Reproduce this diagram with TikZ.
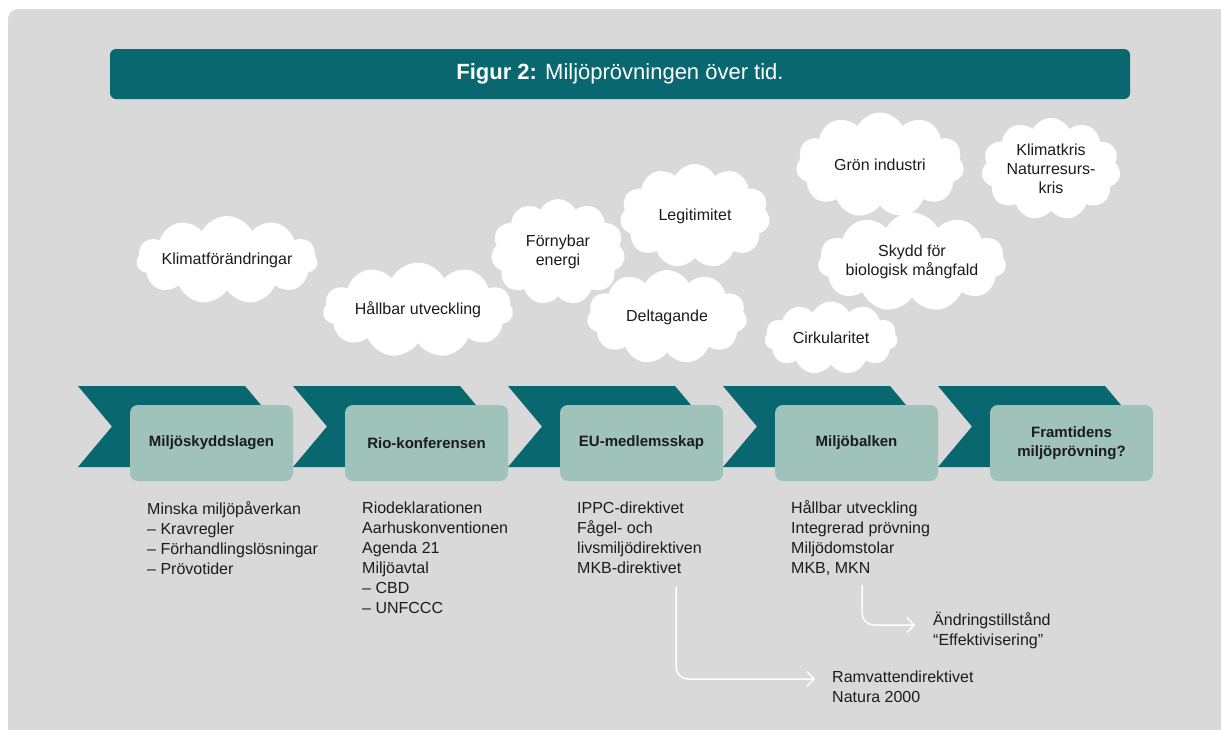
\documentclass[tikz,border=0pt]{standalone}
\usepackage{fontspec}
\setmainfont{Liberation Sans}
\usetikzlibrary{shapes.symbols,arrows.meta}
\definecolor{bggrey}{HTML}{D9D9D9}
\definecolor{tealdark}{HTML}{08676F}
\definecolor{boxgreen}{HTML}{9FC2BA}
\definecolor{ink}{HTML}{1C1C1C}
\begin{document}
\begin{tikzpicture}[x=1pt,y=-1pt,
 chev/.style={fill=tealdark},
 stagebox/.style={fill=boxgreen, rounded corners=8pt, minimum width=163pt, minimum height=76pt, inner sep=0pt, font=\fontsize{15}{19}\selectfont\bfseries, text=ink, align=center},
 puff/.style={cloud, cloud puffs=11, cloud puff arc=125, fill=white, inner sep=0pt, cloud ignores aspect, font=\fontsize{16}{19}\selectfont, text=ink, align=center},
 note/.style={anchor=west, inner sep=0pt, align=left, font=\fontsize{16}{20}\selectfont, text=ink},
 arr/.style={draw=white, line width=1.5pt, rounded corners=12pt, -{Straight Barb[length=7pt,width=15pt]}}]
\useasboundingbox (0,0) rectangle (1221,729);
\fill[bggrey, rounded corners=10pt] (8,9) rectangle (1250,760);

\node[fill=tealdark, rounded corners=6pt, minimum width=1020pt, minimum height=50pt, inner sep=0pt, text=white, font=\fontsize{22}{26}\selectfont] (title) at (620,74) {\textbf{Figur 2:} Miljöprövningen över tid.};

\foreach \i in {0,...,4} {
  \fill[chev] ({78+215*\i},386) -- ({245+215*\i},386) -- ({279+215*\i},426.5) -- ({245+215*\i},467) -- ({78+215*\i},467) -- ({112+215*\i},426.5) -- cycle;
}

\node[stagebox] (s1) at (211.5,443) {Miljöskyddslagen};
\node[stagebox] (s2) at (426.5,443) {Rio-konferensen};
\node[stagebox] (s3) at (641.5,443) {EU-medlemsskap};
\node[stagebox] (s4) at (856.5,443) {Miljöbalken};
\node[stagebox] (s5) at (1071.5,443) {Framtidens\\miljöprövning?};

\node[note] (c1) at (147,538) {Minska miljöpåverkan\\– Kravregler\\– Förhandlingslösningar\\– Prövotider};
\node[note] (c2) at (362,558) {Riodeklarationen\\Aarhuskonventionen\\Agenda 21\\Miljöavtal\\– CBD\\– UNFCCC};
\node[note] (c3) at (577,538) {IPPC-direktivet\\Fågel- och\\livsmiljödirektiven\\MKB-direktivet};
\node[note] (c4) at (791,538) {Hållbar utveckling\\Integrerad prövning\\Miljödomstolar\\MKB, MKN};
\node[note] (r1) at (832,687) {Ramvattendirektivet\\Natura 2000};
\node[note] (r2) at (933,630) {Ändringstillstånd\\“Effektivisering”};

\coordinate (a1s) at (676,587);
\coordinate (a2s) at (862,585);
\draw[arr] (a1s) |- ([xshift=-17pt,yshift=8pt]r1.west);
\draw[arr] (a2s) |- ([xshift=-18pt,yshift=5pt]r2.west);

\node[puff, minimum width=173pt, minimum height=88pt] (k1) at (227,260) {Klimatförändringar};
\node[puff, minimum width=190pt, minimum height=95pt] (k2) at (418,310) {Hållbar utveckling};
\node[puff, minimum width=134pt, minimum height=106pt] (k3) at (558,252) {Förnybar\\energi};
\node[puff, minimum width=150pt, minimum height=104pt] (k4) at (695,216) {Legitimitet};
\node[puff, minimum width=160pt, minimum height=94pt] (k5) at (667,317) {Deltagande};
\node[puff, minimum width=168pt, minimum height=105pt] (k6) at (880,165) {Grön industri};
\node[puff, minimum width=139pt, minimum height=102pt] (k7) at (1051,169) {Klimatkris\\Naturresurs-\\kris};
\node[puff, minimum width=184pt, minimum height=99pt] (k8) at (912,262) {Skydd för\\biologisk mångfald};
\node[puff, minimum width=133pt, minimum height=73pt] (k9) at (831,338) {Cirkularitet};
\end{tikzpicture}
\end{document}
